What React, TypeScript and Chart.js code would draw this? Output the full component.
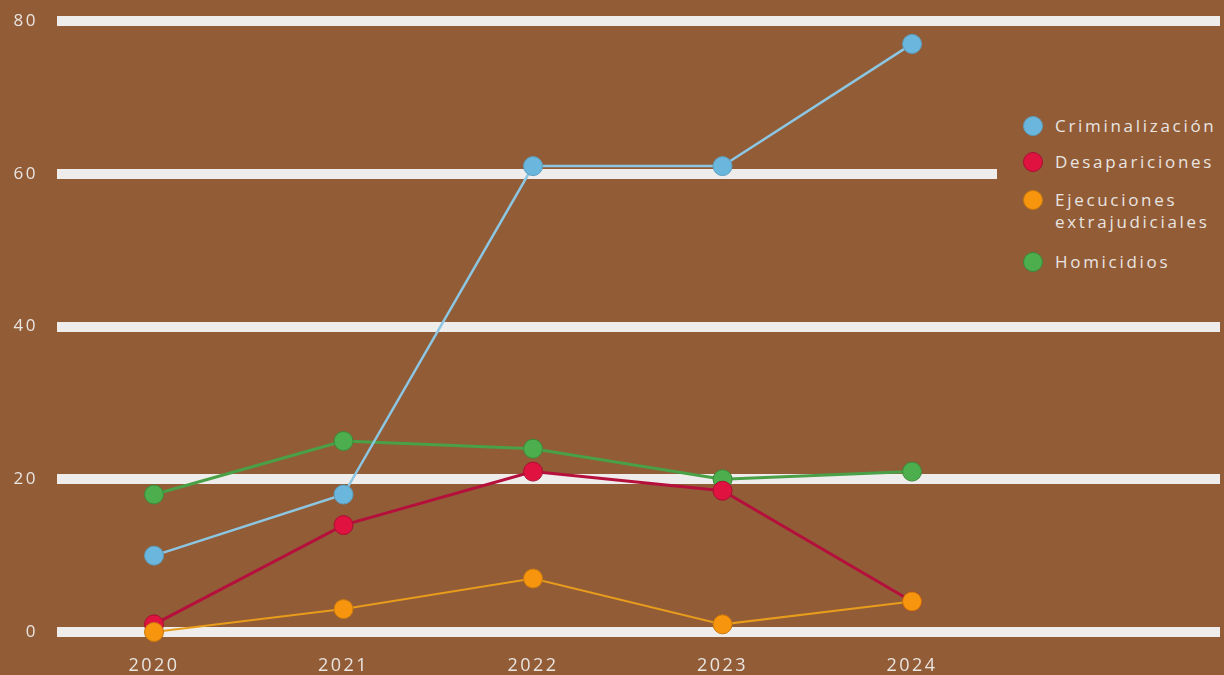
import React, { useEffect, useRef } from "react";
import { Chart, registerables } from "chart.js";

Chart.register(...registerables);

const YEARS = [2020, 2021, 2022, 2023, 2024];
const CRIMINALIZACION = [10, 18, 61, 61, 77];
const DESAPARICIONES = [1, 14, 21, 18.5, 4];
const EJECUCIONES = [0, 3, 7, 1, 4];
const HOMICIDIOS = [18, 25, 24, 20, 21];
const Y_TICKS = [0, 20, 40, 60, 80];

const BG = "#925c37";
const TEXT = "#e9e5e1";
const FONT = "'Open Sans', 'DejaVu Sans', sans-serif";

const SERIES = [
  { label: "Criminalización", data: CRIMINALIZACION, line: "#8cc6e2", point: "#6ab6dc", border: "#5a9ec0", width: 2.5, order: 2 },
  { label: "Desapariciones", data: DESAPARICIONES, line: "#b5103c", point: "#e0123f", border: "#a80f33", width: 3, order: 1 },
  { label: "Ejecuciones\nextrajudiciales", data: EJECUCIONES, line: "#e89c1c", point: "#f7950f", border: "#c9790c", width: 2, order: 0 },
  { label: "Homicidios", data: HOMICIDIOS, line: "#4aa046", point: "#4cae4c", border: "#3b8a3b", width: 3, order: 3 },
];

const LEGEND_Y = [126, 162, 200, 262];

const spacingPlugin = {
  id: "spacing",
  beforeUpdate(chart: any) {
    chart.ctx.letterSpacing = "2.5px";
  },
  beforeLayout(chart: any) {
    chart.ctx.letterSpacing = "2.5px";
  },
  beforeDraw(chart: any) {
    chart.ctx.letterSpacing = "2.5px";
  },
};

const zeroPad = (scale: any) => {
  scale.paddingTop = 0;
  scale.paddingBottom = 0;
  scale.paddingLeft = 0;
  scale.paddingRight = 0;
};

export default function App() {
  const ref = useRef<HTMLCanvasElement | null>(null);

  useEffect(() => {
    document.body.style.margin = "0";
    const canvas = ref.current;
    if (!canvas) return;
    const chart = new Chart(canvas, {
      type: "line",
      data: {
        datasets: SERIES.map((s) => ({
          label: s.label,
          data: YEARS.map((x, i) => ({ x, y: s.data[i] })),
          borderColor: s.line,
          backgroundColor: s.point,
          borderWidth: s.width,
          pointBackgroundColor: s.point,
          pointBorderColor: s.border,
          pointBorderWidth: 1,
          pointRadius: 9.5,
          tension: 0,
          order: s.order,
          clip: false,
        })),
      },
      options: {
        animation: false,
        responsive: false,
        layout: { autoPadding: false, padding: { top: 21, right: 4, left: 0, bottom: 0 } },
        plugins: { legend: { display: false }, tooltip: { enabled: false } },
        scales: {
          x: {
            type: "linear",
            min: 2019.488,
            max: 2025.625,
            grid: { display: false, drawTicks: false },
            border: { display: false },
            afterBuildTicks: (scale: any) => {
              scale.ticks = YEARS.map((v) => ({ value: v }));
            },
            afterFit: (scale: any) => {
              scale.height = 43;
              zeroPad(scale);
            },
            ticks: {
              padding: 23,
              color: TEXT,
              font: { family: FONT, size: 18 },
              maxRotation: 0,
              callback: (v: any) => String(v),
            },
          },
          y: {
            min: 0,
            max: 80,
            afterBuildTicks: (scale: any) => {
              scale.ticks = Y_TICKS.map((v) => ({ value: v }));
            },
            afterFit: (scale: any) => {
              scale.width = 57;
              zeroPad(scale);
            },
            grid: { color: "#efedeb", lineWidth: 10, drawTicks: false },
            border: { display: false },
            ticks: {
              padding: 19,
              color: TEXT,
              font: { family: FONT, size: 17 },
              callback: (v: any) => String(v),
            },
          },
        },
      },
      plugins: [spacingPlugin],
    });
    return () => chart.destroy();
  }, []);

  return (
    <div style={{ position: "relative", width: 1224, height: 675, background: BG, overflow: "hidden" }}>
      <canvas ref={ref} width={1224} height={675} style={{ display: "block", position: "absolute", left: 0, top: 0 }} />
      <div
        style={{
          position: "absolute",
          left: 997,
          top: 100,
          width: 227,
          height: 190,
          background: BG,
          fontFamily: FONT,
          fontSize: 17,
          color: TEXT,
          letterSpacing: "2.7px",
        }}
      >
        {SERIES.map((s, i) => (
          <div key={s.label} style={{ position: "absolute", left: 0, top: LEGEND_Y[i] - 100 - 11, width: 227 }}>
            <span
              style={{
                position: "absolute",
                left: 26,
                top: 1,
                width: 20,
                height: 20,
                borderRadius: "50%",
                background: s.point,
                border: `1px solid ${s.border}`,
                boxSizing: "border-box",
              }}
            />
            <div style={{ position: "absolute", left: 58, top: 0, lineHeight: "22px", whiteSpace: "pre" }}>{s.label}</div>
          </div>
        ))}
      </div>
    </div>
  );
}
